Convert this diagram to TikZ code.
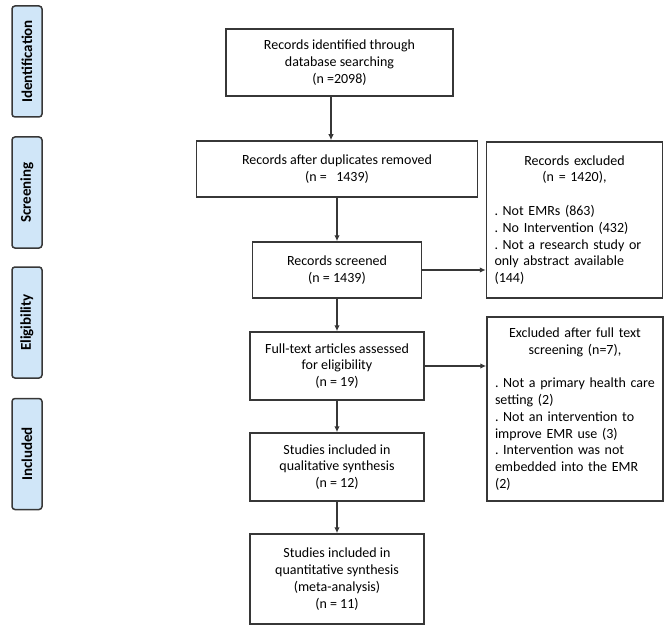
\documentclass[tikz,border=0pt]{standalone}
\usepackage{fontspec}
\setmainfont{Carlito}
\usetikzlibrary{arrows.meta}
\definecolor{stagefill}{RGB}{208,230,248}
\definecolor{linegray}{RGB}{55,55,55}
\frenchspacing
\begin{document}
\begin{tikzpicture}[x=1pt, y=-1pt,
  font=\fontsize{14}{16.8}\selectfont,
  box/.style={draw=linegray, line width=1.5pt, align=center, inner sep=0pt},
  rbox/.style={draw=linegray, line width=1.5pt, text width=170pt, inner sep=0pt,
    minimum width=176pt},
  stage/.style={draw=linegray, line width=1.5pt, fill=stagefill, rounded corners=3pt,
    rotate=90, minimum width=111pt, minimum height=30pt, inner sep=0pt,
    font=\fontsize{15}{18}\selectfont\bfseries},
  arr/.style={draw=linegray, line width=1.5pt, -{Latex[length=6pt,width=5.5pt]}}]
\useasboundingbox (0,0) rectangle (671,628);

\node[stage] (s1) at (27,61.5) {Identification};
\node[stage] (s2) at (27,192.5) {Screening};
\node[stage] (s3) at (27,322.5) {Eligibility};
\node[stage] (s4) at (27,454) {Included};

\node[box, minimum width=227pt, minimum height=67pt] (b1) at (339.5,62.5)
  {Records identified through\\database searching\\(n =2098)};
\node[box, minimum width=281pt, minimum height=56pt] (b2) at (337,169)
  {Records after duplicates removed\\(n =\ \ \ 1439)};
\node[box, minimum width=169pt, minimum height=56pt] (b3) at (337,270)
  {Records screened\\(n = 1439)};
\node[box, minimum width=174pt, minimum height=68pt] (b4) at (337,366)
  {Full-text articles assessed\\for eligibility\\(n = 19)};
\node[box, minimum width=174pt, minimum height=68pt] (b5) at (337,467)
  {Studies included in\\qualitative synthesis\\(n = 12)};
\node[box, minimum width=174pt, minimum height=90pt] (b6) at (337,579)
  {Studies included in\\quantitative synthesis\\(meta-analysis)\\(n = 11)};

% right column: the lists start 8pt inside the frame
\node[rbox, minimum height=156pt] (r1) at (574.5,220)
  {\centering Records excluded\\(n = 1420),\par\vspace{16.8pt}
   \raggedright\leftskip=5pt . Not EMRs (863)\\. No Intervention (432)\\. Not a research study or\\only abstract available\\(144)\par};
\node[rbox, minimum height=184pt] (r2) at (575,409)
  {\centering Excluded after full text\\screening (n=7),\par\vspace{16.8pt}
   \raggedright\leftskip=5pt . Not a primary health care\\setting (2)\\. Not an intervention to\\improve EMR use (3)\\. Intervention was not\\embedded into the EMR\\(2)\par};

\draw[arr] ([xshift=-8.5pt]b1.south) -- ([xshift=-6pt]b2.north);
\draw[arr] (b2) -- (b3);
\draw[arr] (b3) -- (b4);
\draw[arr] (b4) -- (b5);
\draw[arr] (b5) -- (b6);
\draw[arr] (b3.east) -- (b3.east -| r1.west);
\draw[arr] (b4.east) -- (b4.east -| r2.west);
\end{tikzpicture}
\end{document}
